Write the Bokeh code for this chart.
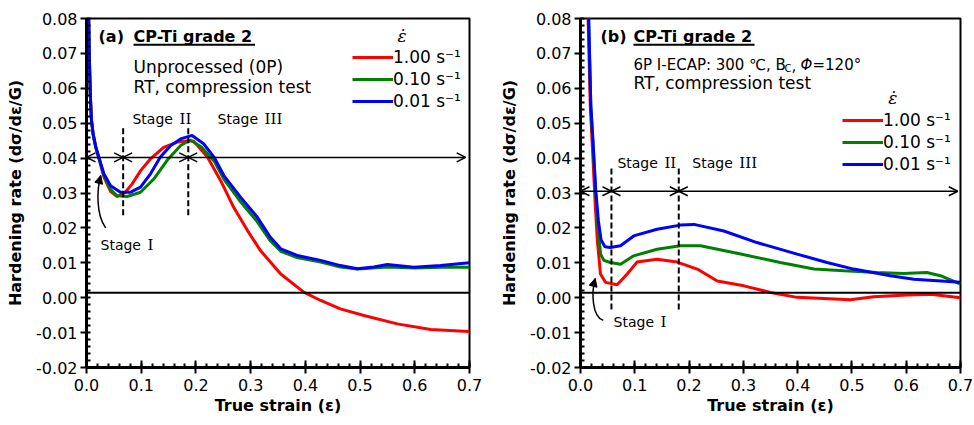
from bokeh.plotting import figure
from bokeh.layouts import row
from bokeh.models import (SingleIntervalTicker, Span, Arrow, OpenHead, NormalHead,
                          Label, Legend, LegendItem, NumeralTickFormatter, Range1d)
from bokeh.embed import file_html
from bokeh.resources import INLINE

# ---------------- data ----------------
rate_labels = ["1.00 s\u207b\u00b9", "0.10 s\u207b\u00b9", "0.01 s\u207b\u00b9"]
colors = ["#ff0000", "#008000", "#0000ff"]

# panel (a): unprocessed (0P)
a_red_x = [0.003, 0.005, 0.007, 0.009, 0.012, 0.017, 0.023, 0.032, 0.044, 0.056, 0.071, 0.0835, 0.099, 0.117,
           0.141, 0.166, 0.187, 0.196, 0.221, 0.245, 0.269, 0.294, 0.318, 0.355, 0.397, 0.428, 0.464, 0.507,
           0.568, 0.629, 0.699]
a_red_y = [0.090, 0.070, 0.058, 0.051, 0.047, 0.043, 0.0398, 0.0345, 0.0305, 0.029, 0.0302, 0.0326, 0.0364, 0.0398,
           0.0431, 0.0446, 0.045, 0.0448, 0.0403, 0.0336, 0.0259, 0.0193, 0.0135, 0.0068, 0.0016, -0.0008, -0.0032,
           -0.0051, -0.0075, -0.0091, -0.0097]
a_green_x = [0.003, 0.005, 0.007, 0.009, 0.012, 0.017, 0.023, 0.032, 0.044, 0.056, 0.0744, 0.0987, 0.123, 0.147,
             0.172, 0.19, 0.21, 0.233, 0.251, 0.28, 0.31, 0.335, 0.355, 0.385, 0.428, 0.464, 0.495, 0.55, 0.6,
             0.65, 0.7]
a_green_y = [0.090, 0.070, 0.058, 0.051, 0.047, 0.043, 0.0398, 0.035, 0.031, 0.0292, 0.029, 0.0302, 0.034, 0.0393,
             0.0436, 0.0452, 0.0432, 0.0392, 0.034, 0.0278, 0.0222, 0.0165, 0.0133, 0.0115, 0.0102, 0.0088, 0.0082,
             0.0088, 0.0085, 0.0087, 0.0087]
a_blue_x = [0.003, 0.005, 0.007, 0.009, 0.012, 0.0165, 0.0225, 0.0317, 0.044, 0.062, 0.08, 0.0987, 0.117, 0.135,
            0.154, 0.172, 0.193, 0.214, 0.233, 0.251, 0.2815, 0.312, 0.336, 0.355, 0.385, 0.428, 0.464, 0.495,
            0.525, 0.55, 0.598, 0.647, 0.7]
a_blue_y = [0.090, 0.070, 0.058, 0.051, 0.047, 0.0435, 0.0403, 0.0355, 0.0321, 0.0302, 0.0302, 0.0317, 0.0355,
            0.0403, 0.0436, 0.0455, 0.0465, 0.0441, 0.0403, 0.035, 0.0288, 0.0231, 0.0173, 0.014, 0.0121, 0.0107,
            0.0092, 0.0083, 0.0088, 0.0095, 0.0087, 0.0092, 0.0100]

# panel (b): 6P I-ECAP
b_red_x = [0.011, 0.014, 0.018, 0.022, 0.027, 0.031, 0.0368, 0.046, 0.0675, 0.086, 0.104, 0.141, 0.178, 0.215,
           0.252, 0.301, 0.35, 0.399, 0.448, 0.497, 0.54, 0.602, 0.645, 0.7]
b_red_y = [0.095, 0.080, 0.055, 0.043, 0.027, 0.0164, 0.0068, 0.0044, 0.0037, 0.0068, 0.0102, 0.011, 0.0102,
           0.0082, 0.0048, 0.0034, 0.0015, 0.0001, -0.0002, -0.0006, 0.0003, 0.0008, 0.001, 0.0]
b_green_x = [0.012, 0.015, 0.019, 0.023, 0.028, 0.033, 0.037, 0.043, 0.055, 0.0737, 0.098, 0.141, 0.184, 0.221,
             0.295, 0.368, 0.43, 0.485, 0.546, 0.595, 0.638, 0.663, 0.7]
b_green_y = [0.095, 0.080, 0.055, 0.044, 0.030, 0.019, 0.0125, 0.0107, 0.0101, 0.0096, 0.012, 0.0139, 0.0149,
             0.0149, 0.0125, 0.0101, 0.0082, 0.0077, 0.0072, 0.0069, 0.0072, 0.0063, 0.0039]
b_blue_x = [0.012, 0.015, 0.019, 0.023, 0.028, 0.033, 0.038, 0.045, 0.055, 0.0737, 0.098, 0.141, 0.184, 0.209,
            0.264, 0.325, 0.399, 0.454, 0.503, 0.571, 0.614, 0.7]
b_blue_y = [0.095, 0.080, 0.055, 0.045, 0.031, 0.022, 0.0165, 0.0146, 0.0144, 0.0149, 0.0177, 0.0196, 0.0208,
            0.021, 0.0191, 0.0158, 0.0125, 0.0101, 0.0082, 0.0063, 0.0053, 0.0044]

# stage boundaries (strain) and arrow level (hardening rate)
a_stage_x = [0.0, 0.067, 0.186, 0.693]
a_arrow_y = 0.0402
b_stage_x = [0.0, 0.057, 0.181, 0.695]
b_arrow_y = 0.0305
zero_line_y = 0.0014

FONT = "DejaVu Sans"
SERIF = "DejaVu Serif"


def make_fig(width, bl, br):
    p = figure(width=width, height=425, x_range=Range1d(0, 0.7000001), y_range=Range1d(-0.02, 0.0800001),
               output_backend="svg", toolbar_location=None,
               min_border_left=bl, min_border_right=br, min_border_top=18, min_border_bottom=58)
    p.xgrid.visible = False
    p.ygrid.visible = False
    p.outline_line_color = "black"
    p.outline_line_width = 2
    p.xaxis.ticker = SingleIntervalTicker(interval=0.1, num_minor_ticks=5)
    p.yaxis.ticker = SingleIntervalTicker(interval=0.01, num_minor_ticks=5)
    p.xaxis.formatter = NumeralTickFormatter(format="0.0")
    p.yaxis.formatter = NumeralTickFormatter(format="0.00")
    for ax in (p.xaxis[0], p.yaxis[0]):
        ax.axis_line_width = 3
        ax.major_tick_line_width = 2
        ax.minor_tick_line_width = 2
        ax.major_tick_out = 6
        ax.minor_tick_in = 4
        ax.minor_tick_out = 0
        ax.major_label_text_font = FONT
        ax.major_label_text_font_size = "16px"
        ax.major_label_text_color = "black"
        ax.axis_label_text_font = FONT
        ax.axis_label_text_font_size = "16px"
        ax.axis_label_text_font_style = "bold"
        ax.axis_label_text_color = "black"
    p.xaxis.major_tick_in = 7
    p.yaxis.major_tick_in = 0
    p.xaxis.major_label_standoff = 5
    p.yaxis.major_label_standoff = 3
    p.xaxis.axis_label_standoff = 2
    p.yaxis.axis_label_standoff = 8
    p.xaxis.axis_label = "True strain (\u03b5)"
    p.yaxis.axis_label = "Hardening rate (d\u03c3/d\u03b5/G)"
    p.add_layout(Span(location=zero_line_y, dimension="width", line_color="black", line_width=2))
    return p


def add_series(p, xs, ys, loc):
    rends = []
    for x, y, c in zip(xs, ys, colors):
        rends.append(p.line(x, y, line_color=c, line_width=3))
    items = [LegendItem(label=l, renderers=[r]) for l, r in zip(rate_labels, rends)]
    leg = Legend(items=items, location=loc, glyph_width=41, glyph_height=20, label_height=20,
                 spacing=2, padding=0, margin=0, label_standoff=0, border_line_alpha=0,
                 background_fill_alpha=0, label_text_font=FONT, label_text_font_size="17px",
                 label_text_color="black")
    p.add_layout(leg)


def add_stages(p, sx, ay, dash_y0, dash_y1):
    for i in range(3):
        p.add_layout(Arrow(start=OpenHead(size=9, line_width=1.5), end=OpenHead(size=9, line_width=1.5),
                           x_start=sx[i], y_start=ay, x_end=sx[i + 1], y_end=ay,
                           line_width=1.5, line_color="black"))
    p.segment(x0=sx[1:3], y0=[dash_y0] * 2, x1=sx[1:3], y1=[dash_y1] * 2,
              line_color="black", line_width=2, line_dash="6 3")


def txt(p, x, y, s, size, style="normal", font=FONT, xo=0, yo=0):
    p.add_layout(Label(x=x, y=y, text=s, text_font=font, text_font_size=size, text_font_style=style,
                       text_baseline="middle", text_color="black", x_offset=xo, y_offset=yo))


def stage(p, x, y, numeral):
    txt(p, x, y, "Stage", "14px")
    txt(p, x, y, numeral, "15px", font=SERIF, xo=47)


# ---------------- panel (a) ----------------
pa = make_fig(487, 86, 18)
add_series(pa, [a_red_x, a_green_x, a_blue_x], [a_red_y, a_green_y, a_blue_y], (266, 256))
add_stages(pa, a_stage_x, a_arrow_y, 0.0236, 0.049)
txt(pa, 0.022, 0.0748, "(a)", "16px", "bold")
txt(pa, 0.086, 0.0748, "CP-Ti grade 2", "16px", "bold")
pa.segment(x0=[0.086], y0=[0.0725], x1=[0.308], y1=[0.0725], line_color="black", line_width=2)
txt(pa, 0.086, 0.0662, "Unprocessed (0P)", "17px")
txt(pa, 0.086, 0.0604, "RT, compression test", "17px")
txt(pa, 0.5686, 0.0751, "\u03b5\u0307", "17px", "italic", SERIF)
stage(pa, 0.084, 0.0513, "II")
stage(pa, 0.2395, 0.0513, "III")
stage(pa, 0.0256, 0.0152, "I")
pa.bezier(x0=[0.035], y0=[0.020], x1=[0.026], y1=[0.035], cx0=[0.017], cy0=[0.024], cx1=[0.019], cy1=[0.031],
          line_color="black", line_width=1.5)
pa.add_layout(Arrow(end=NormalHead(size=8, fill_color="black", line_color="black"),
                    x_start=0.0235, y_start=0.0335, x_end=0.026, y_end=0.035, line_alpha=0))

# ---------------- panel (b) ----------------
pb = make_fig(487, 93, 14)
add_series(pb, [b_red_x, b_green_x, b_blue_x], [b_red_y, b_green_y, b_blue_y], (262, 193))
add_stages(pb, b_stage_x, b_arrow_y, -0.0034, 0.0379)
txt(pb, 0.0368, 0.0748, "(b)", "16px", "bold")
txt(pb, 0.0976, 0.0748, "CP-Ti grade 2", "16px", "bold")
pb.segment(x0=[0.0976], y0=[0.0725], x1=[0.3205], y1=[0.0725], line_color="black", line_width=2)
txt(pb, 0.0976, 0.0667, "6P I-ECAP: 300 \u2103, B", "15px")
txt(pb, 0.0976, 0.0667, "C", "10px", xo=151, yo=-4)
txt(pb, 0.0976, 0.0667, ",", "15px", xo=158)
txt(pb, 0.0976, 0.0667, "\u03a6", "15px", "italic", xo=167)
txt(pb, 0.0976, 0.0667, "=120\u00b0", "15px", xo=179)
txt(pb, 0.0976, 0.0615, "RT, compression test", "17px")
txt(pb, 0.567, 0.0571, "\u03b5\u0307", "17px", "italic", SERIF)
stage(pb, 0.068, 0.0385, "II")
stage(pb, 0.206, 0.0385, "III")
stage(pb, 0.061, -0.0071, "I")
pb.bezier(x0=[0.042], y0=[-0.0065], x1=[0.027], y1=[0.0055], cx0=[0.021], cy0=[-0.0055], cx1=[0.020],
          cy1=[0.0015], line_color="black", line_width=1.5)
pb.add_layout(Arrow(end=NormalHead(size=8, fill_color="black", line_color="black"),
                    x_start=0.0245, y_start=0.004, x_end=0.027, y_end=0.0055, line_alpha=0))

layout = row(pa, pb)
open("out.html", "w").write(file_html(layout, INLINE))
